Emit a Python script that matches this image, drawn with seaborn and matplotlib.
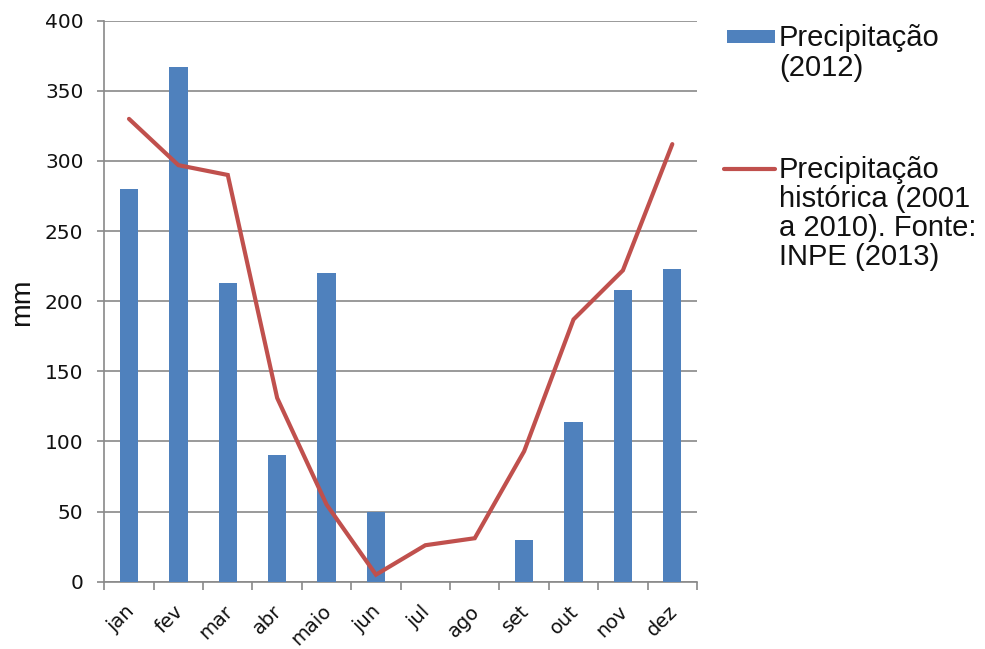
import matplotlib
matplotlib.use("Agg")
import matplotlib.pyplot as plt
import matplotlib.transforms as mtransforms
import seaborn as sns
import numpy as np
import pandas as pd
from matplotlib.patches import Rectangle
from matplotlib.lines import Line2D

months = ["jan", "fev", "mar", "abr", "maio", "jun", "jul", "ago", "set", "out", "nov", "dez"]
precip_2012 = [280, 367, 213, 90, 220, 50, 0, 0, 30, 114, 208, 223]
precip_hist = [330, 297, 290, 131, 55, 5, 26, 31, 93, 187, 222, 312]
y_ticks = [0, 50, 100, 150, 200, 250, 300, 350, 400]
label_bars = "Precipitação\n(2012)"
label_line = "Precipitação\nhistórica (2001\na 2010). Fonte:\nINPE (2013)"
y_label = "mm"

BAR_C = "#4F81BD"
LINE_C = "#C0504D"
GRID_C = "#898989"

sns.set_theme(style="white")
plt.rcParams["font.family"] = ["DejaVu Sans"]

fig = plt.figure(figsize=(9.85, 6.49), dpi=100)
ax = fig.add_axes([104.3 / 985, 1 - 581.7 / 649, (697 - 104.3) / 985, (581.7 - 20.7) / 649])

df = pd.DataFrame({"mes": months, "p2012": precip_2012, "hist": precip_hist})
sns.barplot(data=df, x="mes", y="p2012", color=BAR_C, saturation=1, width=0.37,
            ax=ax, zorder=3, edgecolor="none")
sns.lineplot(x=np.arange(len(months)), y=df["hist"].values, color=LINE_C, linewidth=3.0,
             ax=ax, zorder=4, solid_joinstyle="miter")

ax.set_xlim(-0.5, len(months) - 0.5)
ax.set_ylim(0, 400)
ax.set_yticks(y_ticks)
ax.set_yticklabels([str(v) for v in y_ticks])
ax.yaxis.grid(True, color=GRID_C, linewidth=1.2)
ax.set_axisbelow(True)
ax.set_xlabel("")
ax.set_ylabel("")

for s in ["top", "right"]:
    ax.spines[s].set_visible(False)
for s in ["left", "bottom"]:
    ax.spines[s].set_color(GRID_C)
    ax.spines[s].set_linewidth(1.2)

ax.tick_params(axis="y", which="major", length=5, width=1.2, color=GRID_C, pad=10,
               labelsize=14.5, labelcolor="#111111", left=True)
ax.set_xticks(np.arange(len(months)))
ax.set_xticklabels(months)
ax.set_xticks(np.arange(-0.5, len(months)), minor=True)
ax.tick_params(axis="x", which="major", length=0, pad=22, labelsize=14, labelcolor="#111111")
ax.tick_params(axis="x", which="minor", length=6, width=1.2, color=GRID_C, bottom=True)
shift = mtransforms.ScaledTranslation(6 / 100, 0, fig.dpi_scale_trans)
for lbl in ax.get_xticklabels():
    lbl.set_rotation(45)
    lbl.set_ha("right")
    lbl.set_va("baseline")
    lbl.set_rotation_mode("anchor")
    lbl.set_transform(lbl.get_transform() + shift)

fig.text(22 / 985, 1 - 302 / 649, y_label, rotation=90, ha="center", va="center",
         fontsize=20.5, family=["Liberation Sans", "DejaVu Sans"], color="#111111")

# legend
W, H = 985, 649
fig.add_artist(Rectangle((727 / W, 1 - 43.3 / H), 48 / W, 13 / H, transform=fig.transFigure,
                         facecolor=BAR_C, edgecolor="none"))
fig.add_artist(Line2D([724 / W, 775 / W], [1 - 169.3 / H, 1 - 169.3 / H], transform=fig.transFigure,
                      color=LINE_C, linewidth=3.0, solid_capstyle="round"))
leg_font = dict(fontsize=21, family=["Liberation Sans", "DejaVu Sans"], color="#111111",
                ha="left", va="baseline")
for i, line in enumerate(label_bars.split("\n")):
    fig.text(779 / W, 1 - (45.5 + 30 * i) / H, line, **leg_font)
for i, line in enumerate(label_line.split("\n")):
    fig.text(779 / W, 1 - (177.5 + 29.3 * i) / H, line, **leg_font)

fig.savefig("out.png", dpi=100, facecolor="white")
